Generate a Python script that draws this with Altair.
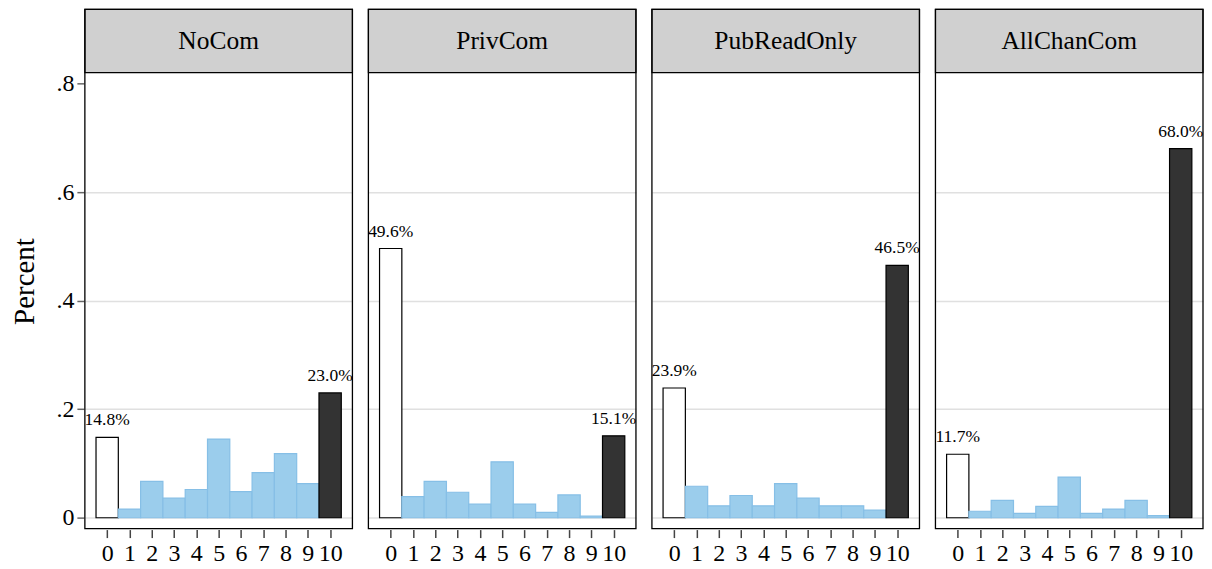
import altair as alt
import pandas as pd

groups = ["NoCom", "PrivCom", "PubReadOnly", "AllChanCom"]
scores = list(range(11))
nocom = [0.148, 0.016, 0.067, 0.036, 0.052, 0.145, 0.048, 0.083, 0.118, 0.063, 0.230]
privcom = [0.496, 0.039, 0.067, 0.047, 0.025, 0.103, 0.025, 0.010, 0.042, 0.003, 0.151]
pubread = [0.239, 0.058, 0.022, 0.041, 0.022, 0.063, 0.036, 0.022, 0.022, 0.014, 0.465]
allchan = [0.117, 0.012, 0.032, 0.008, 0.021, 0.075, 0.008, 0.016, 0.032, 0.004, 0.680]
y_ticks = [0, 0.2, 0.4, 0.6, 0.8]

rows = []
for g, vals in zip(groups, [nocom, privcom, pubread, allchan]):
    for s, v in zip(scores, vals):
        kind = "zero" if s == 0 else ("ten" if s == 10 else "mid")
        rows.append({"group": g, "score": s, "value": v, "kind": kind})
df = pd.DataFrame(rows)

FONT = "Liberation Serif"
W, H = 268, 520
Y_LO, Y_CUT, Y_HI = -0.02, 0.82, 0.9364

yscale = alt.Scale(domain=[Y_LO, Y_HI], nice=False, zero=False)
xscale = alt.Scale(domain=[-1, 11], nice=False, zero=False)

yaxis = alt.Axis(
    values=y_ticks,
    labelExpr="datum.value == 0 ? '0' : replace(format(datum.value, '.1f'), '0.', '.')",
    domain=False, tickSize=7, tickColor="#666666", tickWidth=1.5,
    labelFont=FONT, labelFontSize=24, labelColor="black", labelPadding=3,
    title="Percent", titleFont=FONT, titleFontSize=29, titleFontWeight="normal",
    titleColor="black", titlePadding=16, titleY=272,
    grid=True, gridWidth=1.5,
    gridColor=alt.condition("datum.value > 0.7", alt.value("transparent"), alt.value("#e0e0e0")),
)
xaxis = alt.Axis(
    values=scores, domain=False, grid=False, tickSize=8, tickColor="#444444", tickWidth=1.5,
    labelFont=FONT, labelFontSize=24, labelColor="black", labelPadding=4, title=None,
    labelOverlap=False, labelBound=False, labelFlush=False,
)

base = alt.Chart().transform_calculate(
    x0="datum.score - 0.5", x1="datum.score + 0.5"
)

bars = base.mark_rect(strokeWidth=1.2).encode(
    x=alt.X("x0:Q", scale=xscale, axis=xaxis),
    x2="x1:Q",
    y=alt.Y("value:Q", scale=yscale, axis=yaxis),
    y2=alt.datum(0),
    fill=alt.Color("kind:N", scale=alt.Scale(domain=["zero", "mid", "ten"],
                                             range=["white", "#9BCDEC", "#333333"]), legend=None),
    stroke=alt.Stroke("kind:N", scale=alt.Scale(domain=["zero", "mid", "ten"],
                                                range=["black", "#86BFE6", "black"]), legend=None),
)

labels = base.transform_filter("datum.score == 0 || datum.score == 10").mark_text(
    font=FONT, fontSize=17.5, baseline="bottom", dy=-8, color="black"
).encode(
    x=alt.X("score:Q", scale=xscale, axis=xaxis),
    y=alt.Y("value:Q", scale=yscale, axis=yaxis),
    text=alt.Text("value:Q", format=".1%"),
)

strip = base.transform_filter("datum.score == 0").mark_rect(
    fill="#d0d0d0", stroke="black", strokeWidth=1.2
).encode(
    x=alt.value(0), x2=alt.value(W),
    y=alt.datum(Y_CUT), y2=alt.datum(Y_HI),
)

strip_text = base.transform_filter("datum.score == 0").mark_text(
    font=FONT, fontSize=25.5, color="black", baseline="middle"
).encode(
    x=alt.value(W / 2),
    y=alt.datum((Y_CUT + Y_HI) / 2),
    text="group:N",
)

frame = base.transform_filter("datum.score == 0").mark_rect(
    fill=None, stroke="black", strokeWidth=1.3
).encode(
    x=alt.value(0), x2=alt.value(W), y=alt.value(0), y2=alt.value(H),
)

layer = alt.layer(bars, labels, strip, strip_text, frame).properties(width=W, height=H)

chart = layer.facet(
    data=df,
    column=alt.Column("group:N", sort=groups, title=None,
                      header=alt.Header(labels=False, title=None, labelPadding=0, titlePadding=0)),
    spacing=14,
).properties(
    padding={"left": 3, "top": 0, "right": 0, "bottom": 0},
    background="white",
).configure_view(
    stroke=None
).configure_axis(
    labelOverlap=False
)

chart.save("out.html", embed_options={"renderer": "svg", "actions": False})
